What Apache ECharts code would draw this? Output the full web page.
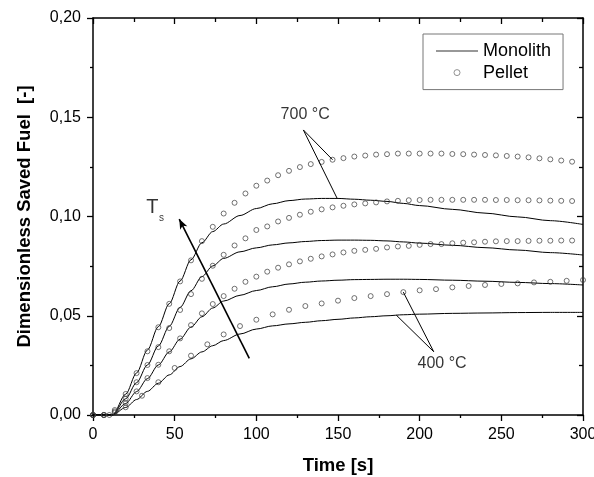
<!DOCTYPE html>
<html>
<head>
<meta charset="utf-8">
<script src="https://cdn.jsdelivr.net/npm/echarts@6/dist/echarts.min.js"></script>
<style>
  html, body { margin: 0; padding: 0; background: #fff; }
  #chart { width: 594px; height: 477px; }
</style>
</head>
<body>
<div id="chart"></div>
<script>
// Time grid of the monolith model curves [s]
var monolithTime = [0, 12, 20, 26.7, 33.3, 40, 46.7, 53.3, 60, 66.7, 73.3, 80, 90, 100, 110, 120,
  130, 140, 150, 160, 170, 180, 190, 200, 220, 240, 260, 280, 300];

// Monolith: dimensionless saved fuel, from highest to lowest Ts (700 °C ... 400 °C)
var monolith700 = [0, 0, 0.0105, 0.0212, 0.0327, 0.0445, 0.0561, 0.0675, 0.0782, 0.0868, 0.0924, 0.0962, 0.1005, 0.1040, 0.1064, 0.1080,
  0.1088, 0.1091, 0.1091, 0.1087, 0.1082, 0.1076, 0.1066, 0.1055, 0.1036, 0.1017, 0.0998, 0.0979, 0.0960];
var monolith600 = [0, 0, 0.0082, 0.0163, 0.0252, 0.0348, 0.0447, 0.0542, 0.0626, 0.0697, 0.0751, 0.0789, 0.0822, 0.0842, 0.0857, 0.0867,
  0.0874, 0.0879, 0.0881, 0.0881, 0.0880, 0.0877, 0.0872, 0.0866, 0.0855, 0.0843, 0.0831, 0.0818, 0.0806];
var monolith500 = [0, 0, 0.0058, 0.0118, 0.0183, 0.0252, 0.0318, 0.0382, 0.0443, 0.0495, 0.0539, 0.0574, 0.0603, 0.0627, 0.0646, 0.0660,
  0.0669, 0.0675, 0.0679, 0.0682, 0.0683, 0.0684, 0.0684, 0.0683, 0.0679, 0.0674, 0.0668, 0.0662, 0.0655];
var monolith400 = [0, 0, 0.0038, 0.0078, 0.0119, 0.0160, 0.0202, 0.0244, 0.0283, 0.0318, 0.0349, 0.0375, 0.0408, 0.0433, 0.0449, 0.0459,
  0.0467, 0.0475, 0.0482, 0.0489, 0.0495, 0.0500, 0.0505, 0.0508, 0.0512, 0.0514, 0.0516, 0.0517, 0.0517];

// Pellet sampling times [s]
var pelletTime = [0, 6.67, 13.33, 20, 26.67, 33.33, 40, 46.67, 53.33, 60, 66.67, 73.33, 80, 86.67, 93.33,
  100, 106.67, 113.33, 120, 126.67, 133.33, 140, 146.67, 153.33, 160, 166.67, 173.33, 180, 186.67, 193.33,
  200, 206.67, 213.33, 220, 226.67, 233.33, 240, 246.67, 253.33, 260, 266.67, 273.33, 280, 286.67, 293.33];
var pelletTime400 = [0, 10, 20, 30, 40, 50, 60, 70, 80, 90, 100, 110, 120, 130, 140, 150,
  160, 170, 180, 190, 200, 210, 220, 230, 240, 250, 260, 270, 280, 290, 300];

// Pellet: dimensionless saved fuel
var pellet700 = [0, 0, 0.0025, 0.0106, 0.0211, 0.0321, 0.0442, 0.0560, 0.0673, 0.0779, 0.0876, 0.0948, 0.1015, 0.1069, 0.1116,
  0.1155, 0.1181, 0.1208, 0.1230, 0.1249, 0.1264, 0.1275, 0.1286, 0.1294, 0.1302, 0.1307, 0.1312, 0.1314, 0.1317, 0.1317,
  0.1317, 0.1317, 0.1317, 0.1315, 0.1314, 0.1312, 0.1310, 0.1308, 0.1305, 0.1302, 0.1298, 0.1293, 0.1288, 0.1282, 0.1276];
var pellet600 = [0, 0, 0.0018, 0.0082, 0.0165, 0.0252, 0.0342, 0.0438, 0.0529, 0.0609, 0.0686, 0.0752, 0.0807, 0.0854, 0.0890,
  0.0932, 0.0950, 0.0975, 0.0993, 0.1009, 0.1024, 0.1036, 0.1046, 0.1054, 0.1061, 0.1066, 0.1071, 0.1076, 0.1079, 0.1082,
  0.1083, 0.1084, 0.1084, 0.1084, 0.1084, 0.1084, 0.1084, 0.1083, 0.1083, 0.1082, 0.1082, 0.1081, 0.1080, 0.1079, 0.1078];
var pellet500 = [0, 0, 0.0012, 0.0060, 0.0119, 0.0186, 0.0253, 0.0321, 0.0386, 0.0453, 0.0512, 0.0559, 0.0599, 0.0636, 0.0671,
  0.0697, 0.0722, 0.0742, 0.0759, 0.0774, 0.0787, 0.0799, 0.0809, 0.0819, 0.0827, 0.0832, 0.0837, 0.0844, 0.0849, 0.0852,
  0.0857, 0.0861, 0.0861, 0.0865, 0.0868, 0.0870, 0.0873, 0.0875, 0.0876, 0.0876, 0.0877, 0.0878, 0.0878, 0.0879, 0.0879];
var pellet400 = [0, 0, 0.0039, 0.0097, 0.0165, 0.0237, 0.0299, 0.0356, 0.0406, 0.0448, 0.0480, 0.0507, 0.0530, 0.0549, 0.0562, 0.0576,
  0.0589, 0.0599, 0.0609, 0.0619, 0.0628, 0.0634, 0.0643, 0.0650, 0.0655, 0.0660, 0.0663, 0.0668, 0.0671, 0.0676, 0.0680];

var FONT = '"Liberation Sans", Arial, sans-serif';

function zip(xs, ys) {
  return xs.map(function (x, i) { return [x, ys[i]]; });
}

function monolithSeries(values) {
  return {
    name: 'Monolith', type: 'line', data: zip(monolithTime, values),
    smooth: 0.3, smoothMonotone: 'x', symbol: 'none', silent: true,
    lineStyle: { color: '#000', width: 1 }, itemStyle: { color: '#000' },
    z: 3
  };
}

function pelletSeries(times, values) {
  return {
    name: 'Pellet', type: 'scatter', data: zip(times, values),
    symbol: 'circle', symbolSize: 5, silent: true,
    itemStyle: { color: 'rgba(255,255,255,0)', borderColor: '#3a3a3a', borderWidth: 0.9 },
    z: 4
  };
}

var leader = { color: '#000', width: 1, type: 'solid' };

var chart = echarts.init(document.getElementById('chart'), null, { renderer: 'canvas' });

chart.setOption({
  animation: false,
  backgroundColor: '#fff',
  textStyle: { fontFamily: FONT, color: '#000' },
  grid: { left: 93, right: 11, top: 18, bottom: 62, containLabel: false, outerBoundsMode: 'none' },
  legend: {
    left: 423, top: 34, orient: 'vertical',
    data: [
      { name: 'Monolith', icon: 'path://M0,0L42,0L42,1L0,1Z', itemStyle: { color: '#333' } },
      { name: 'Pellet', icon: 'circle',
        itemStyle: { color: 'rgba(255,255,255,0)', borderColor: '#555', borderWidth: 0.8 } }
    ],
    itemWidth: 42, itemHeight: 6, itemGap: 3.6,
    padding: [8, 12, 8, 13],
    borderColor: '#777', borderWidth: 1,
    textStyle: { fontFamily: FONT, fontSize: 18, color: '#000' },
    selectedMode: false
  },
  xAxis: [{
    type: 'value', min: 0, max: 300, interval: 50, position: 'bottom',
    name: 'Time [s]', nameLocation: 'middle', nameGap: 41,
    nameTextStyle: { fontFamily: FONT, fontSize: 18.5, fontWeight: 'bold', color: '#000' },
    axisLine: { onZero: false, lineStyle: { color: '#000', width: 1.5 } },
    axisTick: { show: true, inside: false, length: 6, lineStyle: { color: '#000', width: 1.3 } },
    minorTick: { show: true, splitNumber: 2, length: 3, lineStyle: { color: '#000', width: 1.3 } },
    axisLabel: { fontFamily: FONT, fontSize: 16, color: '#000', margin: 12, hideOverlap: false },
    splitLine: { show: false }
  }, {
    type: 'value', min: 0, max: 300, interval: 50, position: 'top',
    axisLine: { onZero: false, lineStyle: { color: '#000', width: 1.5 } },
    axisTick: { show: true, inside: true, length: 6, lineStyle: { color: '#000', width: 1.3 } },
    minorTick: { show: true, splitNumber: 2, length: 4, lineStyle: { color: '#000', width: 1.3 } },
    axisLabel: { show: false },
    splitLine: { show: false }
  }],
  yAxis: [{
    type: 'value', min: 0, max: 0.2, interval: 0.05, position: 'left',
    name: 'Dimensionless Saved Fuel  [-]', nameLocation: 'middle', nameGap: 59,
    nameTextStyle: { fontFamily: FONT, fontSize: 18.5, fontWeight: 'bold', color: '#000' },
    axisLine: { onZero: false, lineStyle: { color: '#000', width: 1.5 } },
    axisTick: { show: true, inside: false, length: 6, lineStyle: { color: '#000', width: 1.3 } },
    minorTick: { show: true, splitNumber: 2, length: 3, lineStyle: { color: '#000', width: 1.3 } },
    axisLabel: {
      fontFamily: FONT, fontSize: 16, color: '#000', margin: 12,
      formatter: function (v) { return v.toFixed(2).replace('.', ','); }
    },
    splitLine: { show: false }
  }, {
    type: 'value', min: 0, max: 0.2, interval: 0.05, position: 'right',
    axisLine: { onZero: false, lineStyle: { color: '#000', width: 1.5 } },
    axisTick: { show: true, inside: true, length: 6, lineStyle: { color: '#000', width: 1.3 } },
    minorTick: { show: true, splitNumber: 2, length: 4, lineStyle: { color: '#000', width: 1.3 } },
    axisLabel: { show: false },
    splitLine: { show: false }
  }],
  series: [
    monolithSeries(monolith700),
    monolithSeries(monolith600),
    monolithSeries(monolith500),
    monolithSeries(monolith400),
    pelletSeries(pelletTime, pellet700),
    pelletSeries(pelletTime, pellet600),
    pelletSeries(pelletTime, pellet500),
    pelletSeries(pelletTime400, pellet400),
    {
      // Text notes, leader lines and the Ts arrow
      name: 'notes', type: 'scatter', silent: true, symbolSize: 1,
      itemStyle: { color: 'rgba(0,0,0,0)' },
      label: {
        show: true, position: 'inside', formatter: '{b}',
        fontFamily: FONT, fontSize: 16, color: '#000'
      },
      data: [
        { name: '700 °C', value: [129.9, 0.1513] },
        { name: '400 °C', value: [213.7, 0.0259] },
        { name: 'T', value: [36.4, 0.1045], label: { show: true, fontSize: 20, fontFamily: FONT, color: '#000' } },
        { name: 's', value: [42.0, 0.0990], label: { show: true, fontSize: 10, fontFamily: FONT, color: '#000' } }
      ],
      markLine: {
        silent: true, animation: false,
        label: { show: false },
        lineStyle: leader,
        symbol: ['none', 'none'],
        data: [
          [{ coord: [128.8, 0.1436] }, { coord: [146.67, 0.1286] }],
          [{ coord: [128.8, 0.1436] }, { coord: [149.5, 0.1091] }],
          [{ coord: [208.6, 0.0319] }, { coord: [190, 0.0619] }],
          [{ coord: [208.6, 0.0319] }, { coord: [185.7, 0.0503] }],
          [{ coord: [95.7, 0.0285], symbol: 'none', lineStyle: { width: 1.6, color: '#000' } },
           { coord: [52.8, 0.0987], symbol: 'arrow', symbolSize: [6, 10] }]
        ]
      },
      z: 6
    }
  ]
});
</script>
</body>
</html>
